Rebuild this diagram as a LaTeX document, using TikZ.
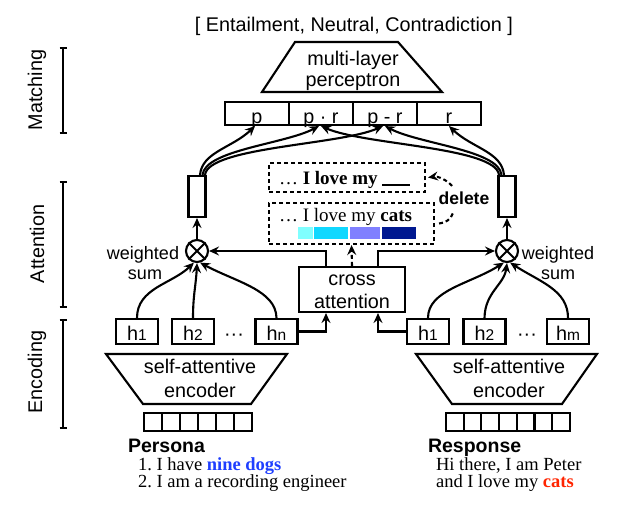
\documentclass[tikz,border=0pt]{standalone}
\usepackage{fontspec}
\setmainfont{Liberation Serif}
\setsansfont{Liberation Sans}
\usetikzlibrary{arrows.meta}
\newcommand{\fsz}[1]{\fontsize{#1}{#1}\selectfont}
\definecolor{cA}{HTML}{80FFFF}
\definecolor{cB}{HTML}{10D8FF}
\definecolor{cC}{HTML}{8080FF}
\definecolor{cD}{HTML}{001890}
\definecolor{tblue}{HTML}{1F3FFF}
\definecolor{tred}{HTML}{FF2400}
\begin{document}
\begin{tikzpicture}[x=1pt,y=-1pt,line width=2.1pt,font=\sffamily\fsz{19.8},
  arr/.style={-{Stealth[length=10pt,width=9pt,inset=3.5pt]}},
  dsh/.style={dash pattern=on 4pt off 3pt},
  mbox/.style={draw,minimum width=64pt,text height=21.5pt,text depth=1.5pt,inner xsep=0pt,inner ysep=0pt},
  vbox/.style={draw,minimum width=17pt,minimum height=41pt,inner sep=0pt},
  circ/.style={draw,circle,minimum size=22pt,inner sep=0pt},
  hbox/.style={draw,minimum width=42pt,text height=21pt,text depth=4pt,inner xsep=0pt,inner ysep=0pt},
  lbl/.style={anchor=base,inner sep=0pt},
  wsum/.style={anchor=base,inner sep=0pt,font=\sffamily\fsz{18}},
  serif/.style={anchor=base west,inner sep=0pt,font=\rmfamily\fsz{18.5}},
  side/.style={rotate=90,inner sep=0pt}]
\useasboundingbox (0,0) rectangle (629,514);

% side brackets
\node[side] (lblm) at (37,90) {Matching};
\node[side] (lbla) at (37,244) {Attention};
\node[side] (lble) at (37,372) {Encoding};
\draw (59.5,48) -- (66.5,48) (63,48) -- (63,133) (59.5,133) -- (66.5,133);
\draw (59.5,182) -- (66.5,182) (63,182) -- (63,307) (59.5,307) -- (66.5,307);
\draw (59.5,320) -- (66.5,320) (63,320) -- (63,428) (59.5,428) -- (66.5,428);

% title and MLP
\node[lbl] (title) at (354,31) {[ Entailment, Neutral, Contradiction ]};
\draw (295,42) -- (398,42) -- (442,92) -- (262,92) -- cycle;
\node[lbl] (mlp1) at (353,65) {multi-layer};
\node[lbl] (mlp2) at (353,86) {perceptron};

% matching boxes
\node[mbox] (mp)  at (257,113.5) {p};
\node[mbox] (mpr) at (321,113.5) {p · r};
\node[mbox] (mmr) at (385,113.5) {p - r};
\node[mbox] (mr)  at (449,113.5) {r};

% attention vectors and weighted sums
\node[vbox] (vl) at (197,196.5) {};
\node[vbox] (vr) at (507,196.5) {};
\node[circ] (cl) at (197,251) {};
\node[circ] (cr) at (507,251) {};
\draw[line width=1.8pt] (cl.north west) -- (cl.south east) (cl.north east) -- (cl.south west);
\draw[line width=1.8pt] (cr.north west) -- (cr.south east) (cr.north east) -- (cr.south west);
\node[wsum] (wl1) at (143,259) {weighted};
\node[wsum] (wl2) at (145,279) {sum};
\node[wsum] (wr1) at (558,259) {weighted};
\node[wsum] (wr2) at (558,279) {sum};

% vectors to matching boxes
\draw[arr] ([xshift=3pt]vl.north) .. controls (202,152) and (232,148) .. ([xshift=-2pt]mp.south);
\draw[arr] ([xshift=5.5pt]vl.north) .. controls (205,150) and (285,144) .. ([xshift=-2pt]mpr.south);
\draw[arr] ([xshift=8pt]vl.north) .. controls (208,147) and (340,145) .. ([xshift=-2pt]mmr.south);
\draw[arr] ([xshift=-3pt]vr.north) .. controls (502,152) and (472,148) .. (mr.south);
\draw[arr] ([xshift=-5.5pt]vr.north) .. controls (499,150) and (419,144) .. (mmr.south);
\draw[arr] ([xshift=-8pt]vr.north) .. controls (496,147) and (364,145) .. (mpr.south);

\draw[arr] (cl.north) -- (vl.south);
\draw[arr] (cr.north) -- (vr.south);

% dashed boxes
\node[draw,dsh,minimum width=156pt,minimum height=29pt,inner sep=0pt] (td) at (347,177.5) {};
\node[draw,dsh,minimum width=165pt,minimum height=41pt,inner sep=0pt] (bd) at (351.5,223.5) {};
\node[anchor=base west,inner sep=0pt,font=\rmfamily\fsz{19}] (tt) at (278,184) {\ldots\ \textbf{I love my \rule[-1.5pt]{28pt}{1.3pt}}};
\node[anchor=base west,inner sep=0pt,font=\rmfamily\fsz{19}] (bt) at (278,221) {\ldots\ I love my \textbf{cats}};
\fill[cA] (298,227) rectangle (313,239);
\fill[cB] (314,227) rectangle (348,239);
\fill[cC] (350,227) rectangle (380,239);
\fill[cD] (382,227) rectangle (416,239);

% delete arrow
\node[anchor=base,inner sep=0pt,font=\sffamily\bfseries\fsz{17.5}] (del) at (464,204) {delete};
\coordinate (d1) at (453,213);
\coordinate (d2) at (452,186);
\draw[dsh] ([xshift=4pt]bd.east) .. controls (446,223) and (451,219) .. (d1);
\draw[dsh,arr] (d2) .. controls (447,180) and (438,176) .. ([xshift=2pt]td.east);

% cross attention
\node[draw,minimum width=106pt,minimum height=45pt,inner sep=0pt] (ca) at (352,289.5) {};
\node[lbl] (ca1) at (352,285) {cross};
\node[lbl] (ca2) at (352,308) {attention};
\draw[arr,dsh] (ca.north) -- (bd.south);
\draw[arr] ([xshift=-26pt]ca.north) |- (cl.east);
\draw[arr] ([xshift=26pt]ca.north) |- (cr.west);

% hidden states
\node[hbox] (lh1) at (137,331.5) {h{\fsz{15.5}1}};
\node[hbox] (lh2) at (193,331.5) {h{\fsz{15.5}2}};
\node[lbl] (ldots) at (234,340) {···};
\node[hbox] (lhn) at (276.5,331.5) {h{\fsz{15.5}n}};
\node[hbox] (rh1) at (428,331.5) {h{\fsz{15.5}1}};
\node[hbox] (rh2) at (484.5,331.5) {h{\fsz{15.5}2}};
\node[lbl] (rdots) at (527,340) {···};
\node[hbox] (rhm) at (568,331.5) {h{\fsz{15.5}m}};

\draw[arr] (lhn.east) -| ([xshift=-26pt]ca.south);
\draw[arr] (rh1.west) -| ([xshift=26pt]ca.south);

\draw[arr] (lh1.north) .. controls (137,288) and (172,284) .. (cl.-105);
\draw[arr] (lh2.north) .. controls (193,295) and (196,285) .. (cl.-90);
\draw[arr] (lhn.north) .. controls (276,290) and (236,282) .. (cl.-75);
\draw[arr] (rh1.north) .. controls (428,290) and (470,284) .. (cr.-105);
\draw[arr] (rh2.north) .. controls (485,292) and (504,285) .. (cr.-90);
\draw[arr] (rhm.north) .. controls (568,290) and (540,282) .. (cr.-75);

% encoders
\draw (106,354) -- (287,354) -- (251,404) -- (143,404) -- cycle;
\node[lbl] (le1) at (200,373) {self-attentive};
\node[lbl] (le2) at (200,397) {encoder};
\draw (416,354) -- (597,354) -- (562,404) -- (452,404) -- cycle;
\node[lbl] (re1) at (509,373) {self-attentive};
\node[lbl] (re2) at (509,397) {encoder};

% token grids
\foreach \i in {0,...,5} { \draw (144+18*\i,413) rectangle (162+18*\i,431); }
\foreach \i in {0,...,6} { \draw (446+17.7*\i,413) rectangle (463.7+17.7*\i,431); }

% texts
\node[anchor=base west,inner sep=0pt,font=\sffamily\bfseries\fsz{19.5}] (pers) at (127,452) {Persona};
\node[serif] (p1) at (137,470) {1.\ I have \textbf{\color{tblue}nine dogs}};
\node[serif] (p2) at (137,487) {2.\ I am a recording engineer};
\node[anchor=base west,inner sep=0pt,font=\sffamily\bfseries\fsz{19.5}] (resp) at (427,452) {Response};
\node[serif] (r1) at (435,470) {Hi there, I am Peter};
\node[serif] (r2) at (435,487) {and I love my \textbf{\color{tred}cats}};
\end{tikzpicture}
\end{document}
